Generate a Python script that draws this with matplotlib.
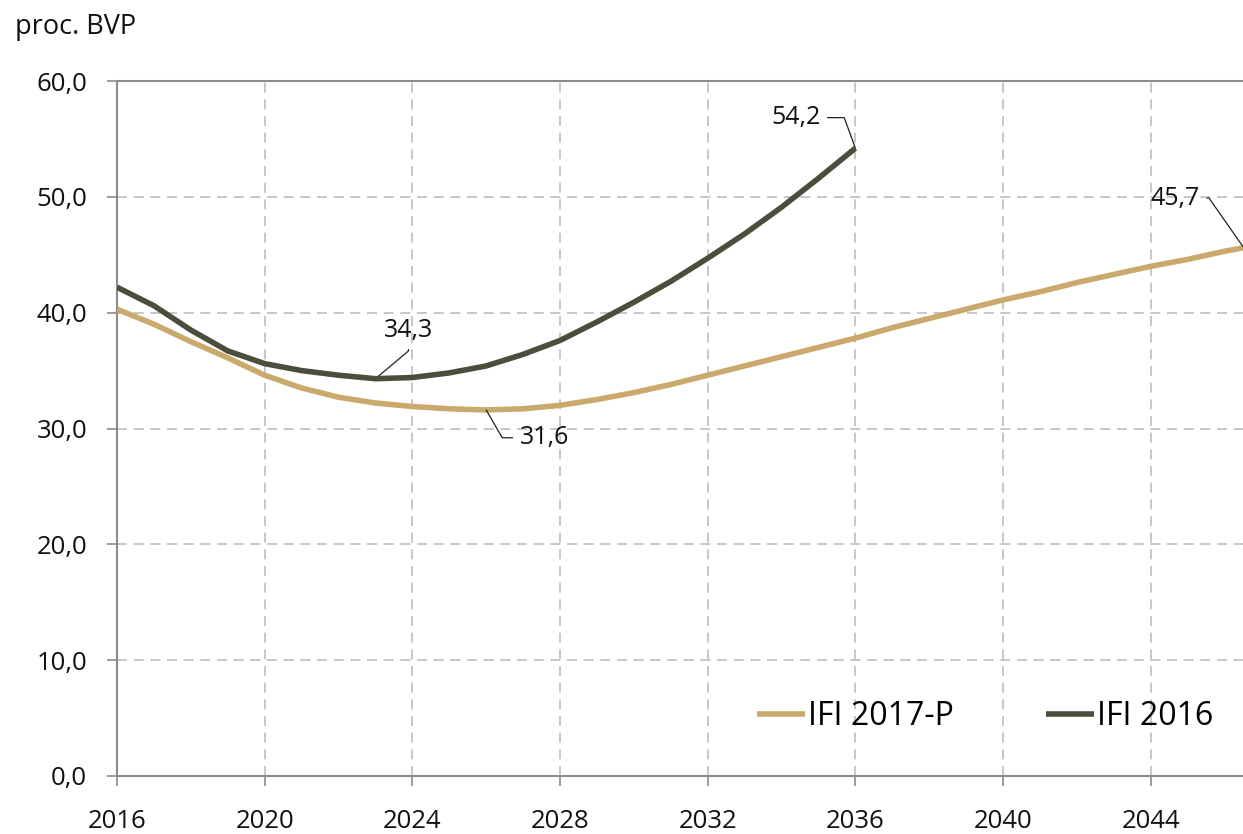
import matplotlib
matplotlib.use("Agg")
import matplotlib.pyplot as plt
import numpy as np

plt.rcParams['font.family'] = ['Open Sans', 'DejaVu Sans']

years_2017 = list(range(2016, 2048))
ifi_2017_p = [40.3, 39.0, 37.5, 36.1, 34.6, 33.5, 32.7, 32.2, 31.9, 31.7,
              31.6, 31.7, 32.0, 32.5, 33.1, 33.8, 34.6, 35.4, 36.2, 37.0,
              37.8, 38.7, 39.5, 40.3, 41.1, 41.8, 42.6, 43.3, 44.0, 44.6,
              45.3, 45.9]
years_2016 = list(range(2016, 2037))
ifi_2016 = [42.2, 40.6, 38.5, 36.7, 35.6, 35.0, 34.6, 34.3, 34.4, 34.8,
            35.4, 36.4, 37.6, 39.2, 40.9, 42.7, 44.7, 46.8, 49.1, 51.6,
            54.2]

xticks = list(range(2016, 2048, 4))
yticks = [0, 10, 20, 30, 40, 50, 60]
ylabel_text = "proc. BVP"
series_names = ["IFI 2017-P", "IFI 2016"]

gold = "#C9AA6C"
dark = "#4B4D3D"
grid_c = "#BDBDBD"
axis_c = "#8C8C8C"

fig = plt.figure(figsize=(12.43, 8.34), dpi=100)
ax = fig.add_axes([117/1243, 1-776/834, 1-117/1243, (776-81)/834])

l1, = ax.plot(years_2017, ifi_2017_p, color=gold, lw=4.0, solid_capstyle='butt',
              solid_joinstyle='round', zorder=3)
l2, = ax.plot(years_2016, ifi_2016, color=dark, lw=4.0, solid_capstyle='butt',
              solid_joinstyle='round', zorder=4)

ax.set_xlim(2016, 2046.5)
ax.set_ylim(0, 60)
ax.set_xticks(xticks)
ax.set_yticks(yticks)
ax.set_yticklabels([f"{v:.1f}".replace('.', ',') for v in yticks])
ax.tick_params(axis='both', which='both', direction='out', length=7.5, width=1.2,
               color=axis_c, labelsize=18.5, labelcolor='#111111')
ax.tick_params(axis='x', pad=16)
ax.tick_params(axis='y', pad=14)

ax.grid(True, color=grid_c, lw=1.2, ls=(0, (6, 4)))
ax.set_axisbelow(True)
for s in ['left', 'bottom', 'top']:
    ax.spines[s].set_color(axis_c)
    ax.spines[s].set_linewidth(1.5)
ax.spines['right'].set_visible(False)

fig.text(15/1243, 1-27/834, ylabel_text, fontsize=19.5, va='center', ha='left', color='#111111')

leg = ax.legend([l1, l2], series_names, loc='center', bbox_to_anchor=(0.771, 0.085),
                ncol=2, frameon=False, fontsize=23, handlelength=1.5, handletextpad=0.1,
                columnspacing=2.9)

def lbl(x, y, text, dx, dy, angA, angB, ha):
    ax.annotate(text.replace('.', ','), xy=(x, y), xytext=(dx, dy), textcoords='offset points',
                fontsize=18, ha=ha, va='center', color='#111111',
                arrowprops=dict(arrowstyle='-', color='#222222', lw=0.9,
                                shrinkA=3, shrinkB=0,
                                connectionstyle=f'angle,angleA={angA},angleB={angB},rad=0'),
                annotation_clip=False)

i_min16 = int(np.argmin(ifi_2016))
i_min17 = int(np.argmin(ifi_2017_p))
lbl(years_2016[i_min16], ifi_2016[i_min16], f"{ifi_2016[i_min16]:.1f}", 6, 35, 90, 40, 'left')
lbl(years_2017[i_min17], ifi_2017_p[i_min17], f"{ifi_2017_p[i_min17]:.1f}", 24, -20, 0, -60, 'left')
lbl(years_2016[-1], ifi_2016[-1], f"{ifi_2016[-1]:.1f}", -25, 22, 0, 110, 'right')
lbl(2046.5, 45.7, "45.7", -31, 35, 0, 125, 'right')

fig.savefig("out.png", dpi=100)
